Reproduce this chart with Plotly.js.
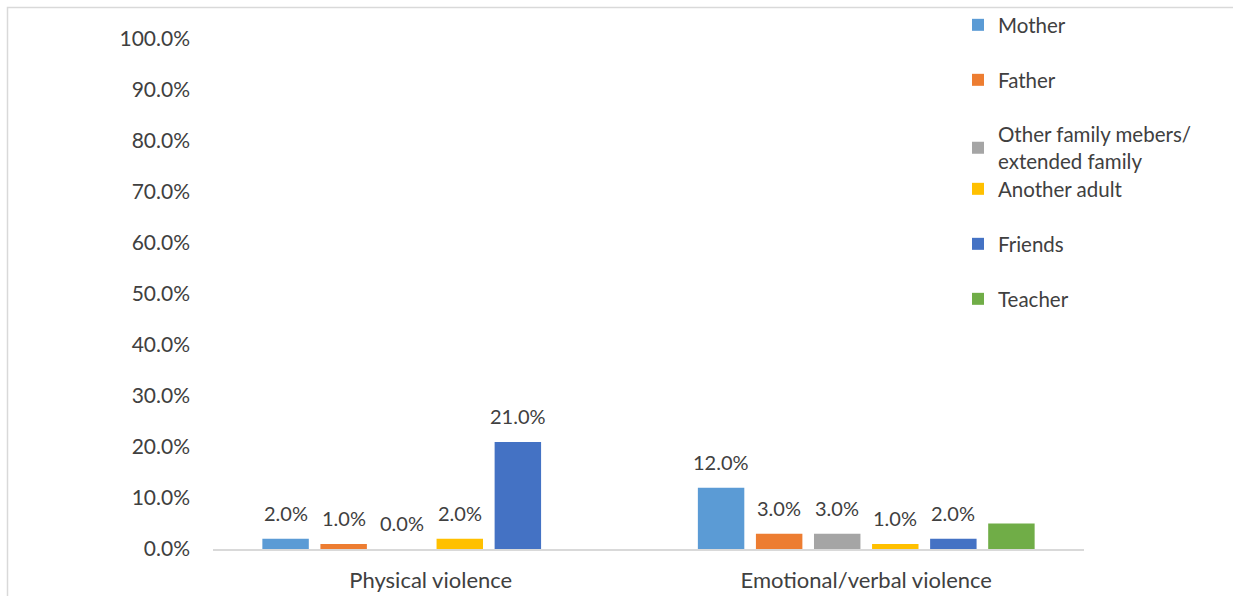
<!DOCTYPE html>
<html>
<head>
<meta charset="utf-8">
<script src="https://cdn.plot.ly/plotly-3.0.1.min.js"></script>
<style>html,body{margin:0;padding:0;background:#fff;}#chart{width:1233px;height:596px;}</style>
</head>
<body>
<div id="chart"></div>
<script>
const categories = ["Physical violence", "Emotional/verbal violence"];
const seriesNames = ["Mother", "Father", "Other family mebers/<br>extended family", "Another adult", "Friends", "Teacher"];
const mother = [2.0, 12.0];
const father = [1.0, 3.0];
const otherFamily = [0.0, 3.0];
const anotherAdult = [2.0, 1.0];
const friends = [21.0, 2.0];
const teacher = [null, 5.0];
const showLabels = [true, true, true, true, true, false];
const yTicks = [0, 10, 20, 30, 40, 50, 60, 70, 80, 90, 100];

const seriesValues = [mother, father, otherFamily, anotherAdult, friends, teacher];
const colors = ["#5b9bd5", "#ed7d31", "#a5a5a5", "#ffc000", "#4472c4", "#70ad47"];
const FONT = "Lato, 'Open Sans', sans-serif";
const TXT = "#404040";
const W = 1233, H = 596, L = 213, R = 149, T = 39, B = 47;
const pw = W - L - R, ph = H - T - B;
const BARGAP = 0.2, GROUPGAP = 0.2;
const legendPix = [25, 80, 148, 189, 244, 299];
const px2x = p => (p - L) / pw;
const py2y = p => (H - B - p) / ph;

const nSeries = seriesValues.length;
const traces = seriesValues.map((vals, i) => ({
  type: "bar",
  name: seriesNames[i],
  x: categories,
  y: vals,
  marker: {color: colors[i]},
  hoverinfo: "skip",
  legend: i === 0 ? "legend" : "legend" + (i + 1)
}));

// data labels anchored to each bar's value; horizontal offset follows the grouped-bar slot
const slotPx = (pw / categories.length) * (1 - BARGAP) / nSeries;
const annotations = [];
seriesValues.forEach((vals, i) => {
  if (!showLabels[i]) return;
  vals.forEach((v, j) => {
    if (v == null) return;
    annotations.push({
      x: categories[j], y: v, xref: "x", yref: "y",
      text: v.toFixed(1) + "%", showarrow: false,
      xanchor: "center", yanchor: "bottom",
      xshift: (i - (nSeries - 1) / 2) * slotPx, yshift: 12,
      font: {family: FONT, size: 20, color: TXT}
    });
  });
});

const layout = {
  width: W, height: H,
  margin: {l: L, r: R, t: T, b: B, pad: 0, autoexpand: false},
  paper_bgcolor: "#fff", plot_bgcolor: "#fff",
  font: {family: FONT, size: 20, color: TXT},
  barmode: "group",
  bargap: BARGAP,
  bargroupgap: GROUPGAP,
  showlegend: true,
  xaxis: {
    showline: true, linecolor: "#d9d9d9", linewidth: 1.5,
    ticks: "", showgrid: false, zeroline: false,
    ticklabelstandoff: 11,
    tickfont: {family: FONT, size: 22, color: TXT}
  },
  yaxis: {
    range: [0, 100], tickvals: yTicks,
    ticktext: yTicks.map(v => v.toFixed(1) + "%"),
    showgrid: false, zeroline: false, showline: false, ticks: "",
    ticklabelstandoff: 22,
    tickfont: {family: FONT, size: 21, color: TXT}
  },
  annotations: annotations,
  shapes: [{
    type: "rect", xref: "paper", yref: "paper",
    x0: px2x(7.5), x1: px2x(1300), y0: py2y(700), y1: py2y(7.5),
    line: {color: "#d9d9d9", width: 1.5}, fillcolor: "rgba(0,0,0,0)", layer: "below"
  }]
};

legendPix.forEach((p, i) => {
  const key = i === 0 ? "legend" : "legend" + (i + 1);
  layout[key] = {
    x: px2x(958), xanchor: "left",
    y: py2y(p), yanchor: "middle",
    bgcolor: "rgba(0,0,0,0)", borderwidth: 0,
    font: {family: FONT, size: 20.5, color: TXT},
    itemclick: false, itemdoubleclick: false
  };
});

Plotly.newPlot("chart", traces, layout, {displayModeBar: false, staticPlot: true});
</script>
</body>
</html>
